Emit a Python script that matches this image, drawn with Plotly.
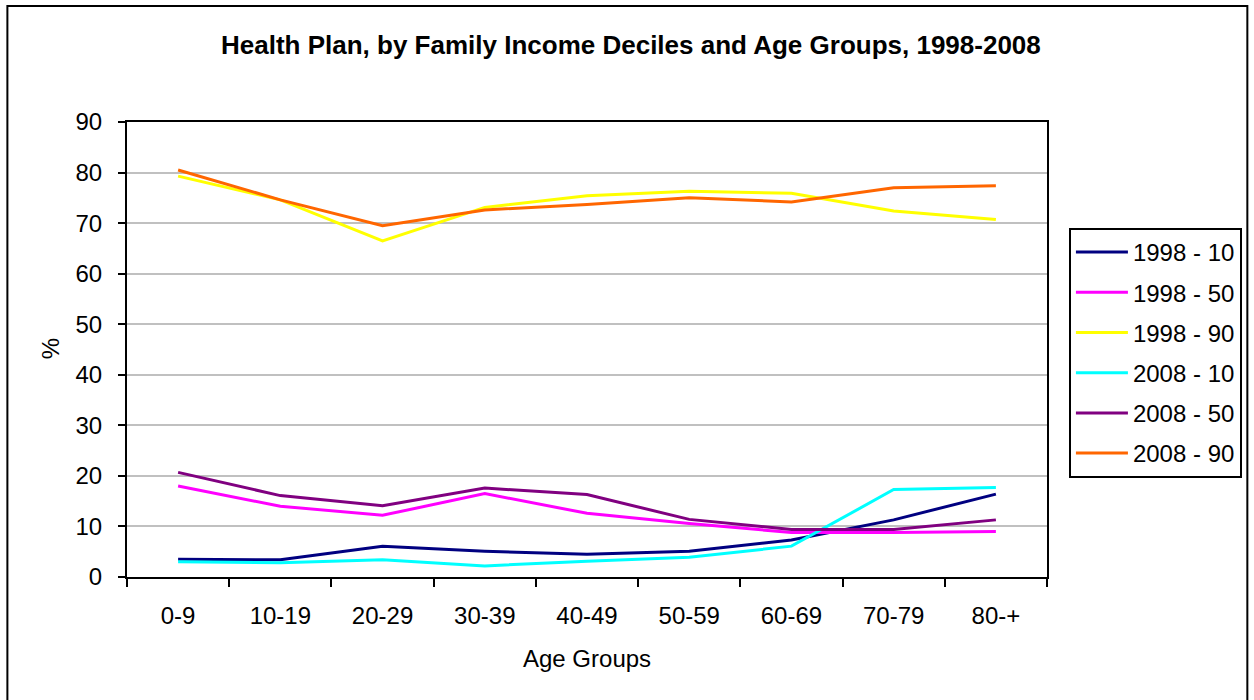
import plotly.graph_objects as go

age_groups = ["0-9", "10-19", "20-29", "30-39", "40-49", "50-59", "60-69", "70-79", "80-+"]

s1998_10 = [3.5, 3.4, 6.1, 5.1, 4.5, 5.1, 7.3, 11.3, 16.4]
s1998_50 = [18.0, 14.0, 12.2, 16.5, 12.6, 10.6, 8.8, 8.8, 9.0]
s1998_90 = [79.3, 74.6, 66.5, 73.1, 75.4, 76.3, 75.9, 72.4, 70.7]
s2008_10 = [3.0, 2.8, 3.4, 2.2, 3.1, 3.9, 6.1, 17.3, 17.7]
s2008_50 = [20.7, 16.1, 14.1, 17.6, 16.3, 11.4, 9.4, 9.4, 11.3]
s2008_90 = [80.5, 74.6, 69.5, 72.6, 73.7, 75.0, 74.2, 77.0, 77.4]

series_names = ["1998 - 10", "1998 - 50", "1998 - 90", "2008 - 10", "2008 - 50", "2008 - 90"]
series_values = [s1998_10, s1998_50, s1998_90, s2008_10, s2008_50, s2008_90]
series_colors = ["#000080", "#FF00FF", "#FFFF00", "#00FFFF", "#800080", "#FF6600"]

FONT = "Liberation Sans, Arial, sans-serif"
FS = 24

fig = go.Figure()
for i, (name, vals, col) in enumerate(zip(series_names, series_values, series_colors)):
    fig.add_trace(go.Scatter(
        x=age_groups, y=vals, mode="lines", name=name,
        line=dict(color=col, width=3), legendgroup=f"g{i}",
    ))

# plot area in pixels
L, R, T, B = 127, 1050, 122, 577
W, H = 1254, 700
pw, ph = R - L, B - T

def px_x(p):
    return (p - L) / pw

def px_y(p):
    return (B - p) / ph

fig.update_layout(
    width=W, height=H,
    margin=dict(l=L, r=W - R, t=T, b=H - B, pad=0),
    paper_bgcolor="white", plot_bgcolor="white",
    font=dict(family=FONT, size=FS, color="black"),
    showlegend=True,
    legend=dict(
        x=px_x(1072), y=px_y(228), xanchor="left", yanchor="top",
        bordercolor="black", borderwidth=2, bgcolor="white",
        font=dict(family=FONT, size=FS, color="black"),
        tracegroupgap=6, itemwidth=52,
    ),
    xaxis=dict(
        type="category", range=[-0.5, 8.5],
        showline=True, linecolor="black", linewidth=2, mirror=True,
        ticks="outside", ticklen=8, tickwidth=2, tickcolor="black",
        tickson="boundaries", showgrid=False, zeroline=False,
        tickfont=dict(family=FONT, size=FS, color="black"),
        ticklabelstandoff=16,
    ),
    yaxis=dict(
        range=[0, 90], tickvals=[0, 10, 20, 30, 40, 50, 60, 70, 80, 90],
        showline=True, linecolor="black", linewidth=2, mirror=True,
        ticks="outside", ticklen=7, tickwidth=2, tickcolor="black",
        showgrid=True, gridcolor="#C0C0C0", gridwidth=2, zeroline=False,
        tickfont=dict(family=FONT, size=FS, color="black"),
        ticklabelstandoff=11,
    ),
    annotations=[
        dict(text="<b>Health Plan, by Family Income Deciles and Age Groups, 1998-2008</b>",
             x=px_x(633), y=px_y(45), xref="paper", yref="paper",
             xanchor="center", yanchor="middle", showarrow=False,
             font=dict(family=FONT, size=26, color="black")),
        dict(text="Age Groups", x=px_x(588), y=px_y(658), xref="paper", yref="paper",
             xanchor="center", yanchor="middle", showarrow=False,
             font=dict(family=FONT, size=FS, color="black")),
        dict(text="%", x=px_x(50), y=px_y(349), xref="paper", yref="paper",
             xanchor="center", yanchor="middle", showarrow=False, textangle=-90,
             font=dict(family=FONT, size=FS, color="black")),
    ],
    shapes=[
        dict(type="rect", xref="paper", yref="paper",
             x0=px_x(7), x1=px_x(1251), y0=px_y(702), y1=px_y(6),
             line=dict(color="black", width=2), fillcolor="rgba(0,0,0,0)", layer="above"),
    ],
)

fig.write_html("out.html")
